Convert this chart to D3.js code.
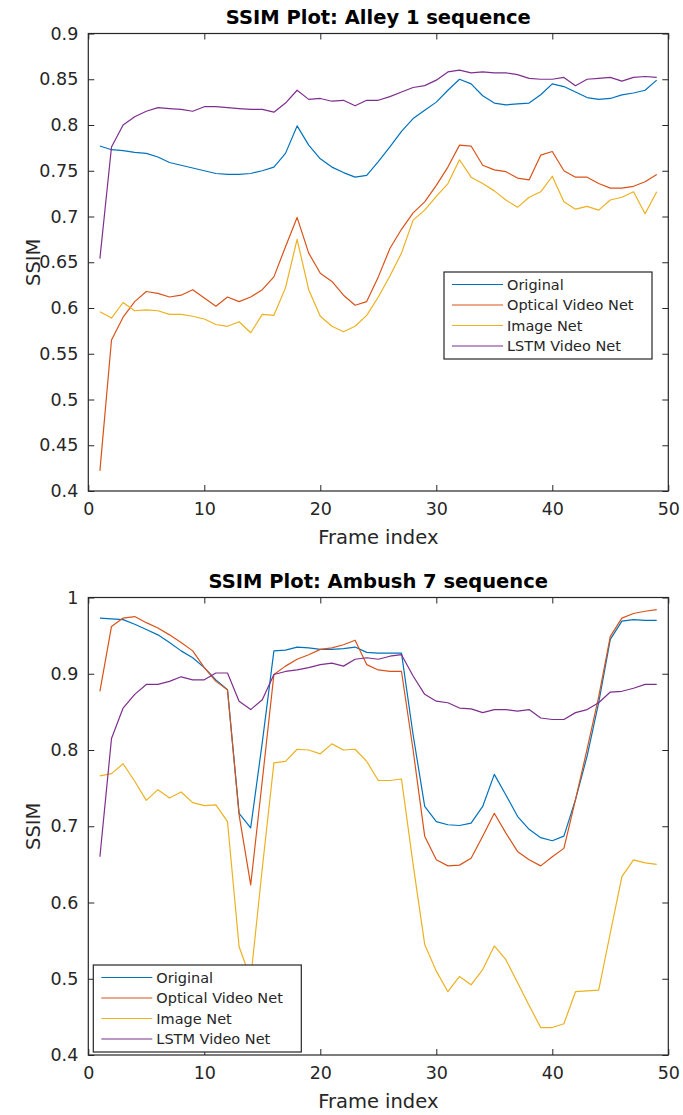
<!DOCTYPE html>
<html lang="en">
<head>
    <meta charset="UTF-8">
    <title>SSIM Plots</title>
    <script src="https://cdnjs.cloudflare.com/ajax/libs/d3/7.8.5/d3.min.js"></script>
    <style>
        body { margin: 0; background: #fff; }
        text { font-family: "DejaVu Sans", sans-serif; fill: #262626; }
        .title { font-weight: bold; fill: #000; }
        .series { fill: none; stroke-width: 1.2px; stroke-linejoin: round; }
    </style>
</head>
<body>
    <svg width="683" height="1115"></svg>
    <script>
        // series names and colours (MATLAB defaults)
        const seriesNames = ["Original", "Optical Video Net", "Image Net", "LSTM Video Net"];
        const seriesColors = ["#0072BD", "#D95319", "#EDB120", "#7E2F8E"];

        const xTicks = [0, 10, 20, 30, 40, 50];

        // Alley 1 sequence, frames 1..49
        const alleyOriginal = [0.777,0.773,0.772,0.770,0.769,0.765,0.759,0.756,0.753,0.750,
            0.747,0.746,0.746,0.747,0.750,0.754,0.769,0.799,0.778,0.763,
            0.754,0.748,0.743,0.745,0.760,0.776,0.793,0.807,0.816,0.825,
            0.838,0.850,0.845,0.832,0.824,0.822,0.823,0.824,0.833,0.845,
            0.842,0.836,0.830,0.828,0.829,0.833,0.835,0.838,0.849];
        const alleyOptical = [0.422,0.565,0.590,0.607,0.618,0.616,0.612,0.614,0.620,0.611,
            0.602,0.612,0.607,0.612,0.620,0.634,0.667,0.699,0.660,0.638,
            0.629,0.614,0.603,0.607,0.634,0.665,0.686,0.704,0.716,0.734,
            0.754,0.778,0.777,0.756,0.751,0.749,0.742,0.740,0.767,0.771,
            0.750,0.743,0.743,0.736,0.731,0.731,0.733,0.738,0.746];
        const alleyImage = [0.596,0.589,0.606,0.597,0.598,0.597,0.593,0.593,0.591,0.588,
            0.582,0.580,0.585,0.573,0.593,0.592,0.622,0.675,0.620,0.591,
            0.580,0.574,0.580,0.592,0.612,0.635,0.660,0.696,0.707,0.722,
            0.736,0.762,0.743,0.736,0.728,0.718,0.710,0.721,0.727,0.744,
            0.716,0.708,0.711,0.707,0.718,0.721,0.727,0.703,0.727];
        const alleyLstm = [0.654,0.776,0.800,0.809,0.815,0.819,0.818,0.817,0.815,0.820,
            0.820,0.819,0.818,0.817,0.817,0.814,0.824,0.838,0.828,0.829,
            0.826,0.827,0.821,0.827,0.827,0.831,0.836,0.841,0.843,0.849,
            0.858,0.860,0.857,0.858,0.857,0.857,0.855,0.851,0.850,0.850,
            0.852,0.843,0.850,0.851,0.852,0.848,0.852,0.853,0.852];
        const alleyYTicks = [0.4,0.45,0.5,0.55,0.6,0.65,0.7,0.75,0.8,0.85,0.9];

        // Ambush 7 sequence, frames 1..49
        const ambushOriginal = [0.973,0.972,0.971,0.965,0.958,0.951,0.941,0.930,0.921,0.908,
            0.892,0.879,0.717,0.698,0.810,0.930,0.931,0.935,0.934,0.932,
            0.932,0.933,0.935,0.928,0.927,0.927,0.927,0.820,0.726,0.706,
            0.702,0.701,0.704,0.726,0.768,0.741,0.713,0.696,0.685,0.681,
            0.687,0.735,0.792,0.862,0.945,0.969,0.971,0.970,0.970];
        const ambushOptical = [0.877,0.962,0.973,0.975,0.967,0.960,0.951,0.941,0.930,0.908,
            0.890,0.879,0.715,0.623,0.760,0.899,0.910,0.919,0.925,0.932,
            0.934,0.938,0.944,0.912,0.905,0.903,0.903,0.800,0.687,0.656,
            0.648,0.649,0.658,0.687,0.717,0.691,0.667,0.656,0.648,0.660,
            0.671,0.735,0.801,0.870,0.949,0.973,0.979,0.982,0.984];
        const ambushImage = [0.766,0.769,0.782,0.759,0.734,0.748,0.737,0.745,0.731,0.727,
            0.728,0.706,0.542,0.500,0.645,0.783,0.785,0.801,0.800,0.795,
            0.808,0.800,0.801,0.785,0.760,0.760,0.762,0.650,0.545,0.510,
            0.483,0.503,0.492,0.512,0.543,0.525,0.495,0.465,0.436,0.436,
            0.441,0.483,0.484,0.485,0.560,0.634,0.656,0.652,0.650];
        const ambushLstm = [0.660,0.815,0.855,0.873,0.886,0.886,0.890,0.896,0.892,0.892,
            0.901,0.901,0.864,0.853,0.866,0.899,0.903,0.905,0.908,0.912,
            0.914,0.910,0.919,0.921,0.919,0.923,0.925,0.897,0.873,0.864,
            0.862,0.855,0.854,0.849,0.853,0.853,0.851,0.853,0.842,0.840,
            0.840,0.849,0.853,0.862,0.876,0.877,0.881,0.886,0.886];
        const ambushYTicks = [0.4,0.5,0.6,0.7,0.8,0.9,1];

        const svg = d3.select("svg");
        svg.append("rect").attr("width", 683).attr("height", 1115).attr("fill", "#fff");

        function drawPanel(opts) {
            const { top, bottom, left, right } = opts;
            const x = d3.scaleLinear().domain([0, 50]).range([left, right]);
            const y = d3.scaleLinear().domain(opts.yDomain).range([bottom, top]);
            const g = svg.append("g");
            const tickLen = 6;

            // series lines
            const line = d3.line()
                .x((d, i) => x(i + 1))
                .y(d => y(d));
            opts.series.forEach((s, k) => {
                g.append("path")
                    .datum(s)
                    .attr("class", "series")
                    .attr("stroke", seriesColors[k])
                    .attr("d", line);
            });

            // axes: bottom/left with labels, top/right ticks only (ticks inside)
            const fmt = d => String(+d.toFixed(2));
            g.append("g")
                .attr("transform", `translate(0,${bottom})`)
                .call(d3.axisBottom(x).tickValues(xTicks).tickSizeInner(-tickLen).tickSizeOuter(0).tickPadding(12))
                .call(a => a.select(".domain").remove())
                .call(a => a.selectAll("text").style("font-size", "17.5px").attr("fill", "#262626"));
            g.append("g")
                .attr("transform", `translate(0,${top})`)
                .call(d3.axisTop(x).tickValues(xTicks).tickSizeInner(-tickLen).tickSizeOuter(0).tickFormat(""))
                .call(a => a.select(".domain").remove());
            g.append("g")
                .attr("transform", `translate(${left},0)`)
                .call(d3.axisLeft(y).tickValues(opts.yTicks).tickSizeInner(-tickLen).tickSizeOuter(0).tickPadding(10).tickFormat(fmt))
                .call(a => a.select(".domain").remove())
                .call(a => a.selectAll("text").style("font-size", "17.5px").attr("fill", "#262626"));
            g.append("g")
                .attr("transform", `translate(${right},0)`)
                .call(d3.axisRight(y).tickValues(opts.yTicks).tickSizeInner(-tickLen).tickSizeOuter(0).tickFormat(""))
                .call(a => a.select(".domain").remove());
            g.selectAll(".tick line").attr("stroke", "#262626");

            // axes box
            g.append("rect")
                .attr("x", left).attr("y", top)
                .attr("width", right - left).attr("height", bottom - top)
                .attr("fill", "none").attr("stroke", "#262626").attr("stroke-width", 1.2);

            // title and labels
            g.append("text").attr("class", "title")
                .attr("x", (left + right) / 2).attr("y", top - 10)
                .attr("text-anchor", "middle").style("font-size", "19.5px")
                .text(opts.title);
            g.append("text")
                .attr("x", (left + right) / 2).attr("y", bottom + 53)
                .attr("text-anchor", "middle").style("font-size", "19.5px")
                .text("Frame index");
            g.append("text")
                .attr("transform", `translate(40,${(top + bottom) / 2}) rotate(-90)`)
                .attr("text-anchor", "middle").style("font-size", "19.5px")
                .text("SSIM");

            // legend
            const lg = g.append("g").attr("transform", `translate(${opts.legend[0]},${opts.legend[1]})`);
            lg.append("rect")
                .attr("width", 208).attr("height", 87)
                .attr("fill", "#fff").attr("stroke", "#262626").attr("stroke-width", 1.2);
            seriesNames.forEach((name, k) => {
                const yy = 12.5 + k * 20.5;
                lg.append("line")
                    .attr("x1", 8).attr("x2", 59).attr("y1", yy).attr("y2", yy)
                    .attr("stroke", seriesColors[k]).attr("stroke-width", 1.2);
                lg.append("text")
                    .attr("x", 63).attr("y", yy).attr("dy", "0.35em")
                    .style("font-size", "14.5px").attr("fill", "#000")
                    .text(name);
            });
        }

        drawPanel({
            title: "SSIM Plot: Alley 1 sequence",
            top: 33.5, bottom: 491, left: 88.3, right: 668.3,
            yDomain: [0.4, 0.9], yTicks: alleyYTicks,
            series: [alleyOriginal, alleyOptical, alleyImage, alleyLstm],
            legend: [444, 272]
        });
        drawPanel({
            title: "SSIM Plot: Ambush 7 sequence",
            top: 597.5, bottom: 1055, left: 88.3, right: 668.3,
            yDomain: [0.4, 1], yTicks: ambushYTicks,
            series: [ambushOriginal, ambushOptical, ambushImage, ambushLstm],
            legend: [93.3, 965]
        });
    </script>
</body>
</html>
